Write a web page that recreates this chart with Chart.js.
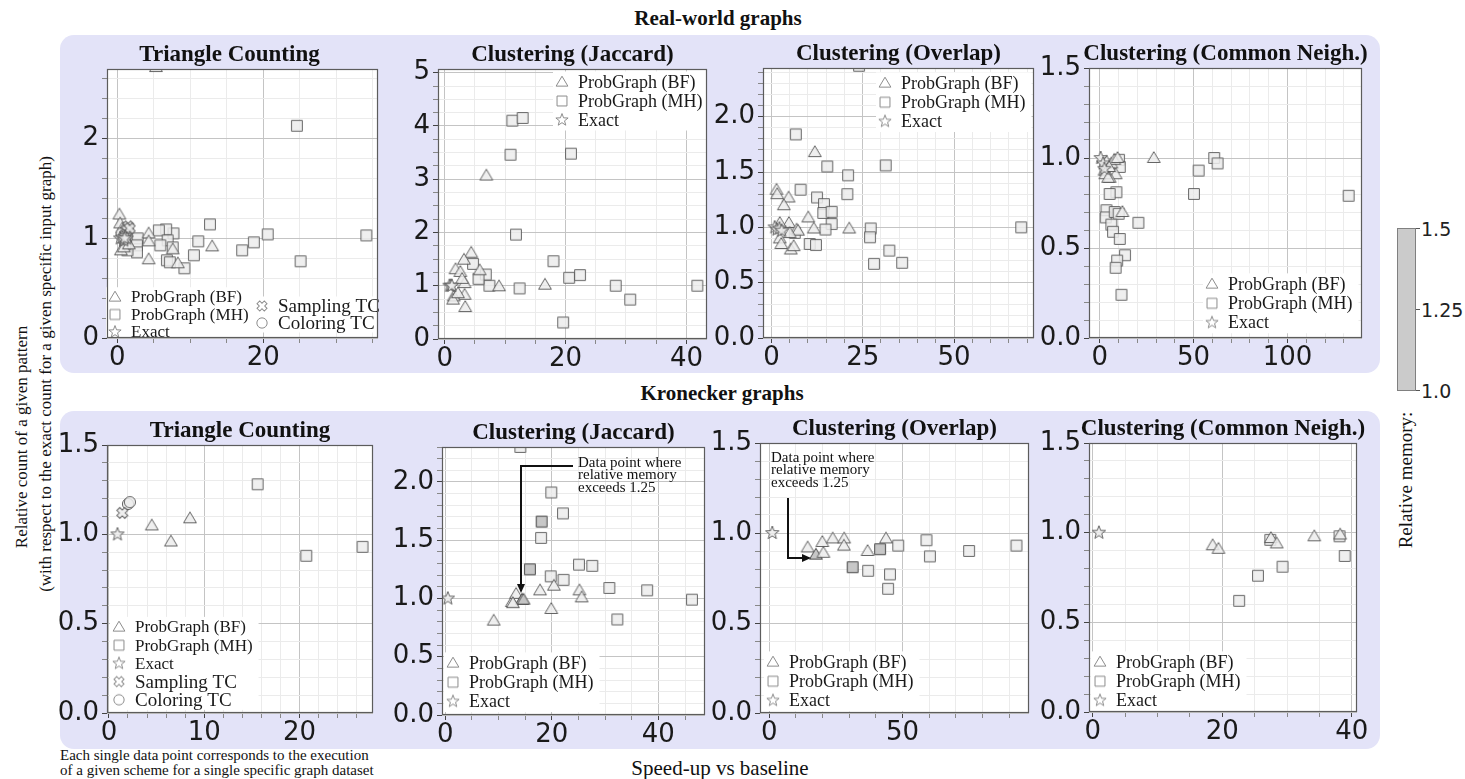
<!DOCTYPE html>
<html>
<head>
<meta charset="utf-8">
<script src="https://cdn.jsdelivr.net/npm/chart.js@4.4.1/dist/chart.umd.min.js"></script>
<style>
  body { margin: 0; background: #fff; }
  #page { position: relative; width: 1465px; height: 779px; overflow: hidden; background: #fff; }
  .band { position: absolute; left: 60px; width: 1320px; height: 338px; background: #e3e3f8; border-radius: 14px; }
  .lbl { position: absolute; white-space: nowrap; font-family: 'Liberation Serif', 'Times New Roman', serif;
         color: #111; transform: translate(-50%, -50%); line-height: 1; }
  .rot { transform: translate(-50%, -50%) rotate(-90deg); }
  .cb { position: absolute; font-family: 'DejaVu Sans', sans-serif; font-size: 19px; color: #222;
        transform: translate(0, -50%); line-height: 1; }
  canvas { position: absolute; }
</style>
</head>
<body>
<div id="page">
  <div class="band" style="top:35px"></div>
  <div class="band" style="top:411px"></div>

  <div class="lbl" style="left:718px;top:18px;font-weight:bold;font-size:21px">Real-world graphs</div>
  <div class="lbl" style="left:722px;top:393px;font-weight:bold;font-size:21px">Kronecker graphs</div>

  <div class="lbl rot" style="left:21px;top:437px;font-size:17px">Relative count of a given pattern</div>
  <div class="lbl rot" style="left:45px;top:374px;font-size:17px">(with respect to the exact count for a given specific input graph)</div>

  <div class="lbl" style="left:720px;top:768px;font-size:21px">Speed-up vs baseline</div>
  <div style="position:absolute;left:60px;top:748px;font:15px/15px 'Liberation Serif',serif;color:#111;white-space:nowrap">
    Each single data point corresponds to the execution<br>of a given scheme for a single specific graph dataset
  </div>

  <!-- relative memory colour bar -->
  <div style="position:absolute;left:1397px;top:228px;width:19px;height:163px;background:#cbcbcb;border:1px solid #808080;box-sizing:border-box"></div>
  <div style="position:absolute;left:1416px;top:228px;width:4px;height:1px;background:#555"></div>
  <div style="position:absolute;left:1416px;top:309px;width:4px;height:1px;background:#555"></div>
  <div style="position:absolute;left:1416px;top:390px;width:4px;height:1px;background:#555"></div>
  <div class="cb" style="left:1421px;top:229px">1.5</div>
  <div class="cb" style="left:1421px;top:310px">1.25</div>
  <div class="cb" style="left:1421px;top:391px">1.0</div>
  <div class="lbl rot" style="left:1405px;top:480px;font-size:19px">Relative memory:</div>
</div>

<script>
// ---------------- data: [speed-up, relative count] ----------------

// Real-world graphs
const realTcBF = [[5.3, 2.72], [13.0, 0.92], [8.3, 0.75], [7.6, 0.89], [4.3, 1.05], [4.3, 0.97], [4.3, 0.79],
  [0.3, 1.24], [0.4, 1.15], [0.7, 1.10], [0.5, 0.88], [0.9, 0.91], [1.6, 0.94]];
const realTcMH = [[24.6, 2.13], [12.7, 1.14], [20.6, 1.04], [34.1, 1.03], [25.1, 0.77], [18.7, 0.96], [17.1, 0.88],
  [11.1, 0.97], [10.5, 0.83], [9.2, 0.70], [7.7, 1.05], [6.7, 1.09], [5.7, 1.08], [6.9, 0.98], [7.6, 0.91],
  [5.9, 0.93], [6.8, 0.78], [7.2, 0.76], [2.8, 1.00], [2.7, 0.93], [2.7, 0.86], [1.4, 0.88], [1.1, 0.94]];
const realTcExact = [[0.4, 1.0], [0.7, 1.01], [0.9, 0.98], [1.1, 1.02], [1.3, 1.0], [1.0, 1.0]];
const realTcSampling = [[1.5, 1.12], [1.3, 1.08], [1.1, 1.04], [1.7, 1.10]];
const realTcColoring = [[0.8, 0.99], [1.2, 1.09], [0.6, 1.05]];

const realJacBF = [[6.9, 3.07], [16.6, 1.02], [9.0, 0.99], [4.4, 1.62], [3.2, 1.49], [1.8, 1.31], [2.6, 1.26],
  [5.8, 1.29], [3.3, 1.05], [3.3, 0.83], [3.4, 0.60], [1.5, 0.80], [1.4, 0.74], [2.2, 0.86], [2.9, 1.13]];
const realJacMH = [[11.2, 4.10], [12.9, 4.15], [10.9, 3.46], [20.9, 3.48], [11.8, 1.96], [18.0, 1.46], [20.6, 1.15],
  [22.4, 1.20], [28.3, 1.00], [30.7, 0.74], [41.8, 1.00], [19.6, 0.31], [12.4, 0.95], [7.4, 1.00], [6.8, 1.21],
  [5.6, 1.13], [4.7, 1.41]];
const realJacExact = [[0.8, 1.0], [1.0, 1.0], [1.2, 1.0]];

const realOvBF = [[11.9, 1.68], [1.4, 1.34], [1.6, 1.30], [4.7, 1.27], [3.4, 1.20], [10.1, 1.09], [11.6, 0.99],
  [21.3, 0.99], [4.8, 1.04], [2.3, 1.04], [6.9, 0.98], [7.3, 0.97], [2.3, 0.90], [2.7, 0.85], [5.3, 0.80],
  [6.1, 0.83], [5.0, 0.95]];
const realOvMH = [[24.0, 2.46], [6.7, 1.84], [15.3, 1.55], [31.3, 1.56], [21.0, 1.47], [8.0, 1.34], [12.5, 1.27],
  [20.8, 1.30], [14.4, 1.21], [14.2, 1.13], [16.5, 1.14], [16.5, 1.03], [14.8, 0.98], [6.4, 0.95], [10.5, 0.85],
  [12.2, 0.84], [27.2, 0.99], [27.0, 0.91], [32.3, 0.79], [28.1, 0.67], [35.8, 0.68], [68.4, 1.00]];
const realOvExact = [[0.9, 1.0], [1.5, 0.98], [2.2, 0.99], [2.8, 0.97]];

const realCnBF = [[28.8, 1.00], [8.5, 0.91], [5.3, 0.89], [12.1, 0.70], [3.6, 0.98], [6.2, 0.97], [2.6, 0.93],
  [3.0, 0.91], [4.5, 0.89], [7.8, 0.99], [5.0, 0.95], [9.5, 1.00]];
const realCnMH = [[61.0, 1.00], [62.8, 0.97], [52.7, 0.93], [50.2, 0.80], [132.6, 0.79], [10.3, 0.99], [10.7, 0.95],
  [8.9, 0.81], [5.3, 0.80], [3.6, 0.71], [3.2, 0.67], [8.0, 0.70], [10.1, 0.69], [6.2, 0.63], [7.1, 0.59],
  [20.6, 0.64], [10.7, 0.55], [13.5, 0.46], [9.3, 0.43], [8.5, 0.39], [11.6, 0.24]];
const realCnExact = [[0.5, 1.0], [1.8, 0.97], [2.5, 0.94]];

// Kronecker graphs
const kronTcBF = [[4.5, 1.05], [6.5, 0.96], [8.5, 1.09]];
const kronTcMH = [[15.6, 1.28], [20.7, 0.88], [26.6, 0.93]];
const kronTcExact = [[0.9, 1.0]];
const kronTcSampling = [[1.4, 1.12]];
const kronTcColoring = [[2.0, 1.17], [2.2, 1.18]];

const kronJacBF = [[9.1, 0.81], [12.5, 0.97], [13.3, 1.04], [14.4, 0.99], [14.7, 0.99], [17.8, 1.07], [20.4, 1.11],
  [19.9, 0.91], [25.2, 1.07], [25.6, 1.01], [12.7, 0.96]];
const kronJacMH = [[14.1, 2.30], [19.9, 1.91], [22.1, 1.73], [18.1, 1.66], [18.0, 1.52], [15.9, 1.25], [25.1, 1.29],
  [27.6, 1.28], [19.8, 1.19], [22.2, 1.16], [30.8, 1.09], [37.9, 1.07], [32.3, 0.82], [46.3, 0.99]];
const kronJacExact = [[0.5, 1.0]];

const kronOvBF = [[14.4, 0.92], [17.5, 0.88], [19.9, 0.95], [20.3, 0.89], [23.8, 0.97], [28.1, 0.97], [28.0, 0.93],
  [36.9, 0.90], [43.8, 0.97]];
const kronOvMH = [[31.3, 0.81], [37.1, 0.79], [41.6, 0.91], [48.4, 0.93], [45.3, 0.77], [44.6, 0.69], [59.0, 0.96],
  [60.3, 0.87], [75.0, 0.90], [92.8, 0.93]];
const kronOvExact = [[1.1, 1.0]];

const kronCnBF = [[18.5, 0.93], [19.4, 0.91], [27.5, 0.97], [28.4, 0.94], [34.2, 0.98], [38.2, 0.99]];
const kronCnMH = [[27.4, 0.96], [22.6, 0.62], [25.5, 0.76], [29.3, 0.81], [38.1, 0.98], [38.9, 0.87]];
const kronCnExact = [[0.93, 1.0]];

// points whose relative memory exceeds 1.25 (index into the series)
const kronJacBFHigh = [3, 4];
const kronJacMHHigh = [3, 5];
const kronOvBFHigh = [1];
const kronOvMHHigh = [0, 2];

const seriesLabels = { tri: 'ProbGraph (BF)', sq: 'ProbGraph (MH)', star: 'Exact', cross: 'Sampling TC', circ: 'Coloring TC' };

// ---------------- markers ----------------
const SERIF = "'Liberation Serif', 'Times New Roman', serif";

function makeMarker(shape, fill, stroke, scale) {
  const c = document.createElement('canvas');
  c.width = 18; c.height = 18;
  const g = c.getContext('2d');
  g.translate(9, 9);
  g.scale(scale, scale);
  g.beginPath();
  if (shape === 'tri') {
    g.moveTo(0, -6.3); g.lineTo(6.4, 4.5); g.lineTo(-6.4, 4.5); g.closePath();
  } else if (shape === 'sq') {
    g.rect(-5.4, -5.4, 10.8, 10.8);
  } else if (shape === 'circ') {
    g.arc(0, 0, 5.6, 0, Math.PI * 2);
  } else if (shape === 'star') {
    for (let i = 0; i < 10; i++) {
      const r = i % 2 ? 2.9 : 7;
      const an = -Math.PI / 2 + i * Math.PI / 5;
      if (i) g.lineTo(r * Math.cos(an), r * Math.sin(an)); else g.moveTo(r * Math.cos(an), r * Math.sin(an));
    }
    g.closePath();
  } else if (shape === 'cross') {
    const a = 2.1, L = 5.6;
    const pts = [[a, L], [-a, L], [-a, a], [-L, a], [-L, -a], [-a, -a], [-a, -L], [a, -L], [a, -a], [L, -a], [L, a], [a, a]];
    g.rotate(Math.PI / 4);
    pts.forEach(([px, py], i) => (i ? g.lineTo(px, py) : g.moveTo(px, py)));
    g.closePath();
  }
  g.fillStyle = fill;
  g.fill();
  g.lineWidth = 1 / scale;
  g.strokeStyle = stroke;
  g.stroke();
  return c;
}

const MARK = {};
['tri', 'sq', 'star', 'cross', 'circ'].forEach((s) => {
  MARK[s] = {
    lo: makeMarker(s, 'rgba(236,236,236,0.85)', 'rgba(85,85,85,0.9)', 1),
    hi: makeMarker(s, 'rgba(196,196,196,0.95)', '#474747', 1),
    leg: makeMarker(s, '#ffffff', '#8c8c8c', 0.92),
  };
});

// ---------------- panels ----------------
const panels = [
  { rect: [107, 69, 378, 338], title: 'Triangle Counting', titleDx: -13,
    x: { min: -1.4, max: 35.7, major: 20, minor: 5, dec: 0 }, y: { min: 0, max: 2.7, major: 1, minor: 0.2, dec: 0 },
    series: [['star', realTcExact], ['cross', realTcSampling], ['circ', realTcColoring], ['tri', realTcBF], ['sq', realTcMH]],
    legends: [{ x: 8, y: 228, rowH: 17.5, size: 17, items: ['tri', 'sq', 'star'] },
              { x: 155, y: 237, rowH: 17, size: 17, items: ['cross', 'circ'] }] },
  { rect: [438, 69, 707, 339], title: 'Clustering (Jaccard)',
    x: { min: -1.1, max: 43.4, major: 20, minor: 5, dec: 0 }, y: { min: 0, max: 5.07, major: 1, minor: 0.25, dec: 0 },
    series: [['star', realJacExact], ['tri', realJacBF], ['sq', realJacMH]],
    legends: [{ x: 124, y: 13, rowH: 19, size: 18, items: ['tri', 'sq', 'star'] }] },
  { rect: [763, 68, 1034, 338], title: 'Clustering (Overlap)',
    x: { min: -2.3, max: 71.9, major: 25, minor: 5, dec: 0 }, y: { min: 0, max: 2.44, major: 0.5, minor: 0.1, dec: 1 },
    series: [['star', realOvExact], ['tri', realOvBF], ['sq', realOvMH]],
    legends: [{ x: 122, y: 15, rowH: 19.2, size: 18, items: ['tri', 'sq', 'star'] }] },
  { rect: [1089, 68, 1362, 338], title: 'Clustering (Common Neigh.)',
    x: { min: -5.7, max: 139.7, major: 50, minor: 10, dec: 0 }, y: { min: 0, max: 1.5, major: 0.5, minor: 0.1, dec: 1 },
    series: [['star', realCnExact], ['tri', realCnBF], ['sq', realCnMH]],
    legends: [{ x: 123, y: 216, rowH: 19.3, size: 18, items: ['tri', 'sq', 'star'] }] },

  { rect: [107, 445, 373, 713], title: 'Triangle Counting',
    x: { min: -0.2, max: 27.7, major: 10, minor: 2, dec: 0 }, y: { min: 0, max: 1.5, major: 0.5, minor: 0.1, dec: 1 },
    series: [['star', kronTcExact], ['cross', kronTcSampling], ['circ', kronTcColoring], ['tri', kronTcBF], ['sq', kronTcMH]],
    legends: [{ x: 12, y: 182, rowH: 18.2, size: 17, items: ['tri', 'sq', 'star', 'cross', 'circ'] }] },
  { rect: [442, 447, 705, 715], title: 'Clustering (Jaccard)',
    x: { min: -0.6, max: 48.75, major: 20, minor: 5, dec: 0 }, y: { min: 0, max: 2.3, major: 0.5, minor: 0.1, dec: 1 },
    series: [['star', kronJacExact], ['tri', kronJacBF, kronJacBFHigh], ['sq', kronJacMH, kronJacMHHigh]],
    legends: [{ x: 11, y: 216, rowH: 19.2, size: 18, items: ['tri', 'sq', 'star'] }],
    note: { tx: 136, ty: 16, lines: ['Data point where', 'relative memory', 'exceeds 1.25'],
            path: [[131, 19], [79, 19], [79, 144]] } },
  { rect: [760, 443, 1029, 713], title: 'Clustering (Overlap)',
    x: { min: -3.5, max: 97.5, major: 50, minor: 10, dec: 0 }, y: { min: 0, max: 1.5, major: 0.5, minor: 0.1, dec: 1 },
    series: [['star', kronOvExact], ['tri', kronOvBF, kronOvBFHigh], ['sq', kronOvMH, kronOvMHHigh]],
    legends: [{ x: 13, y: 219, rowH: 19.2, size: 18, items: ['tri', 'sq', 'star'] }],
    note: { tx: 11, ty: 15, lines: ['Data point where', 'relative memory', 'exceeds 1.25'],
            path: [[28, 55], [28, 115], [49, 115]] } },
  { rect: [1089, 443, 1357, 712], title: 'Clustering (Common Neigh.)',
    x: { min: -0.6, max: 40.8, major: 20, minor: 5, dec: 0 }, y: { min: 0, max: 1.5, major: 0.5, minor: 0.1, dec: 1 },
    series: [['star', kronCnExact], ['tri', kronCnBF], ['sq', kronCnMH]],
    legends: [{ x: 11, y: 219, rowH: 19.2, size: 18, items: ['tri', 'sq', 'star'] }] },
];

const Y_W = 58;   // y axis width
const X_H = 34;   // x axis height
const PAD_T = 42;
const PAD_R = 10;

const isMul = (v, step) => Math.abs(v / step - Math.round(v / step)) < 1e-6;

function drawLegend(ctx, a, lg) {
  const x0 = a.left + lg.x;
  const y0 = a.top + lg.y;
  const fontOf = (s) => `${lg.size + (s === 'cross' || s === 'circ' ? 2 : 0)}px ${SERIF}`;
  let w = 0;
  lg.items.forEach((s) => { ctx.font = fontOf(s); w = Math.max(w, ctx.measureText(seriesLabels[s]).width); });
  const bx = x0 - 9;
  const by = y0 - lg.rowH / 2 - 1;
  const bw = Math.min(16 + w + 15, a.right - bx - 1);
  const bh = Math.min(lg.rowH * lg.items.length + 2, a.bottom - by - 1);
  ctx.fillStyle = '#fff';
  ctx.fillRect(bx, by, bw, bh);
  lg.items.forEach((s, i) => {
    const y = y0 + i * lg.rowH;
    ctx.drawImage(MARK[s].leg, x0 - 9, y - 9);
    ctx.font = fontOf(s);
    ctx.fillStyle = '#1a1a1a';
    ctx.textAlign = 'left';
    ctx.textBaseline = 'middle';
    ctx.fillText(seriesLabels[s], x0 + 16, y + 1);
  });
}

function drawNote(ctx, a, n) {
  ctx.font = `15px ${SERIF}`;
  ctx.fillStyle = '#111';
  ctx.textAlign = 'left';
  ctx.textBaseline = 'middle';
  n.lines.forEach((t, i) => ctx.fillText(t, a.left + n.tx, a.top + n.ty + i * 12.5));
  const pts = n.path.map(([px, py]) => [a.left + px, a.top + py]);
  ctx.strokeStyle = '#111';
  ctx.lineWidth = 2;
  ctx.beginPath();
  pts.forEach(([px, py], i) => (i ? ctx.lineTo(px, py) : ctx.moveTo(px, py)));
  ctx.stroke();
  const [ex, ey] = pts[pts.length - 1];
  const [sx, sy] = pts[pts.length - 2];
  const ang = Math.atan2(ey - sy, ex - sx);
  ctx.save();
  ctx.translate(ex, ey);
  ctx.rotate(ang);
  ctx.beginPath();
  ctx.moveTo(2, 0); ctx.lineTo(-7, -4); ctx.lineTo(-7, 4); ctx.closePath();
  ctx.fill();
  ctx.restore();
}

function makeDecor(p) {
  return {
    id: 'panelDecor',
    beforeDraw(chart) {
      const { ctx, chartArea: a } = chart;
      ctx.save();
      ctx.fillStyle = '#fff';
      ctx.fillRect(a.left, a.top, a.width, a.height);
      ctx.restore();
    },
    afterDatasetsDraw(chart) {
      const { ctx, chartArea: a } = chart;
      ctx.save();
      (p.legends || []).forEach((lg) => drawLegend(ctx, a, lg));
      if (p.note) drawNote(ctx, a, p.note);
      ctx.strokeStyle = '#5c5c5c';
      ctx.lineWidth = 1.2;
      ctx.strokeRect(a.left + 0.5, a.top + 0.5, a.width - 1, a.height - 1);
      ctx.font = `bold 23px ${SERIF}`;
      ctx.fillStyle = '#111';
      ctx.textAlign = 'center';
      ctx.textBaseline = 'middle';
      ctx.fillText(p.title, (a.left + a.right) / 2 + (p.titleDx || 0), a.top - 14);
      ctx.restore();
    },
  };
}

function axis(ax, horizontal) {
  return {
    type: 'linear',
    min: ax.min,
    max: ax.max,
    ticks: {
      stepSize: ax.minor,
      autoSkip: false,
      maxRotation: 0,
      includeBounds: false,
      padding: horizontal ? 0 : 3,
      color: '#1a1a1a',
      font: { family: "'DejaVu Sans', sans-serif", size: 26 },
      callback: (v) => (isMul(v, ax.major) ? v.toFixed(ax.dec) : ''),
    },
    grid: {
      color: (c) => (c.tick && isMul(c.tick.value, ax.major) ? '#c4c4c4' : '#ebebeb'),
      tickColor: (c) => (c.tick && isMul(c.tick.value, ax.major) ? '#444' : '#888'),
      tickLength: 5,
      lineWidth: 1,
    },
    border: { display: false },
    afterFit: (s) => {
      if (horizontal) s.height = X_H; else s.width = Y_W;
      s.paddingLeft = 0; s.paddingRight = 0; s.paddingTop = 0; s.paddingBottom = 0;
    },
  };
}

const page = document.getElementById('page');

panels.forEach((p) => {
  const [L, T, R, B] = p.rect;
  const canvas = document.createElement('canvas');
  canvas.width = (R - L) + Y_W + PAD_R;
  canvas.height = (B - T) + PAD_T + X_H;
  canvas.style.left = `${L - Y_W}px`;
  canvas.style.top = `${T - PAD_T}px`;
  page.appendChild(canvas);

  const datasets = p.series.map(([shape, pts, high]) => ({
    label: seriesLabels[shape],
    data: pts.map(([x, y]) => ({ x, y })),
    pointStyle: (c) => ((high || []).includes(c.dataIndex) ? MARK[shape].hi : MARK[shape].lo),
    pointRadius: 6,
    pointHoverRadius: 6,
    borderWidth: 0,
    showLine: false,
    clip: 0,
  }));

  new Chart(canvas.getContext('2d'), {
    type: 'scatter',
    data: { datasets },
    options: {
      responsive: false,
      animation: false,
      events: [],
      layout: { padding: { top: PAD_T, right: PAD_R, left: 0, bottom: 0 } },
      plugins: { legend: { display: false }, tooltip: { enabled: false } },
      scales: { x: axis(p.x, true), y: axis(p.y, false) },
    },
    plugins: [makeDecor(p)],
  });
});
</script>
</body>
</html>
